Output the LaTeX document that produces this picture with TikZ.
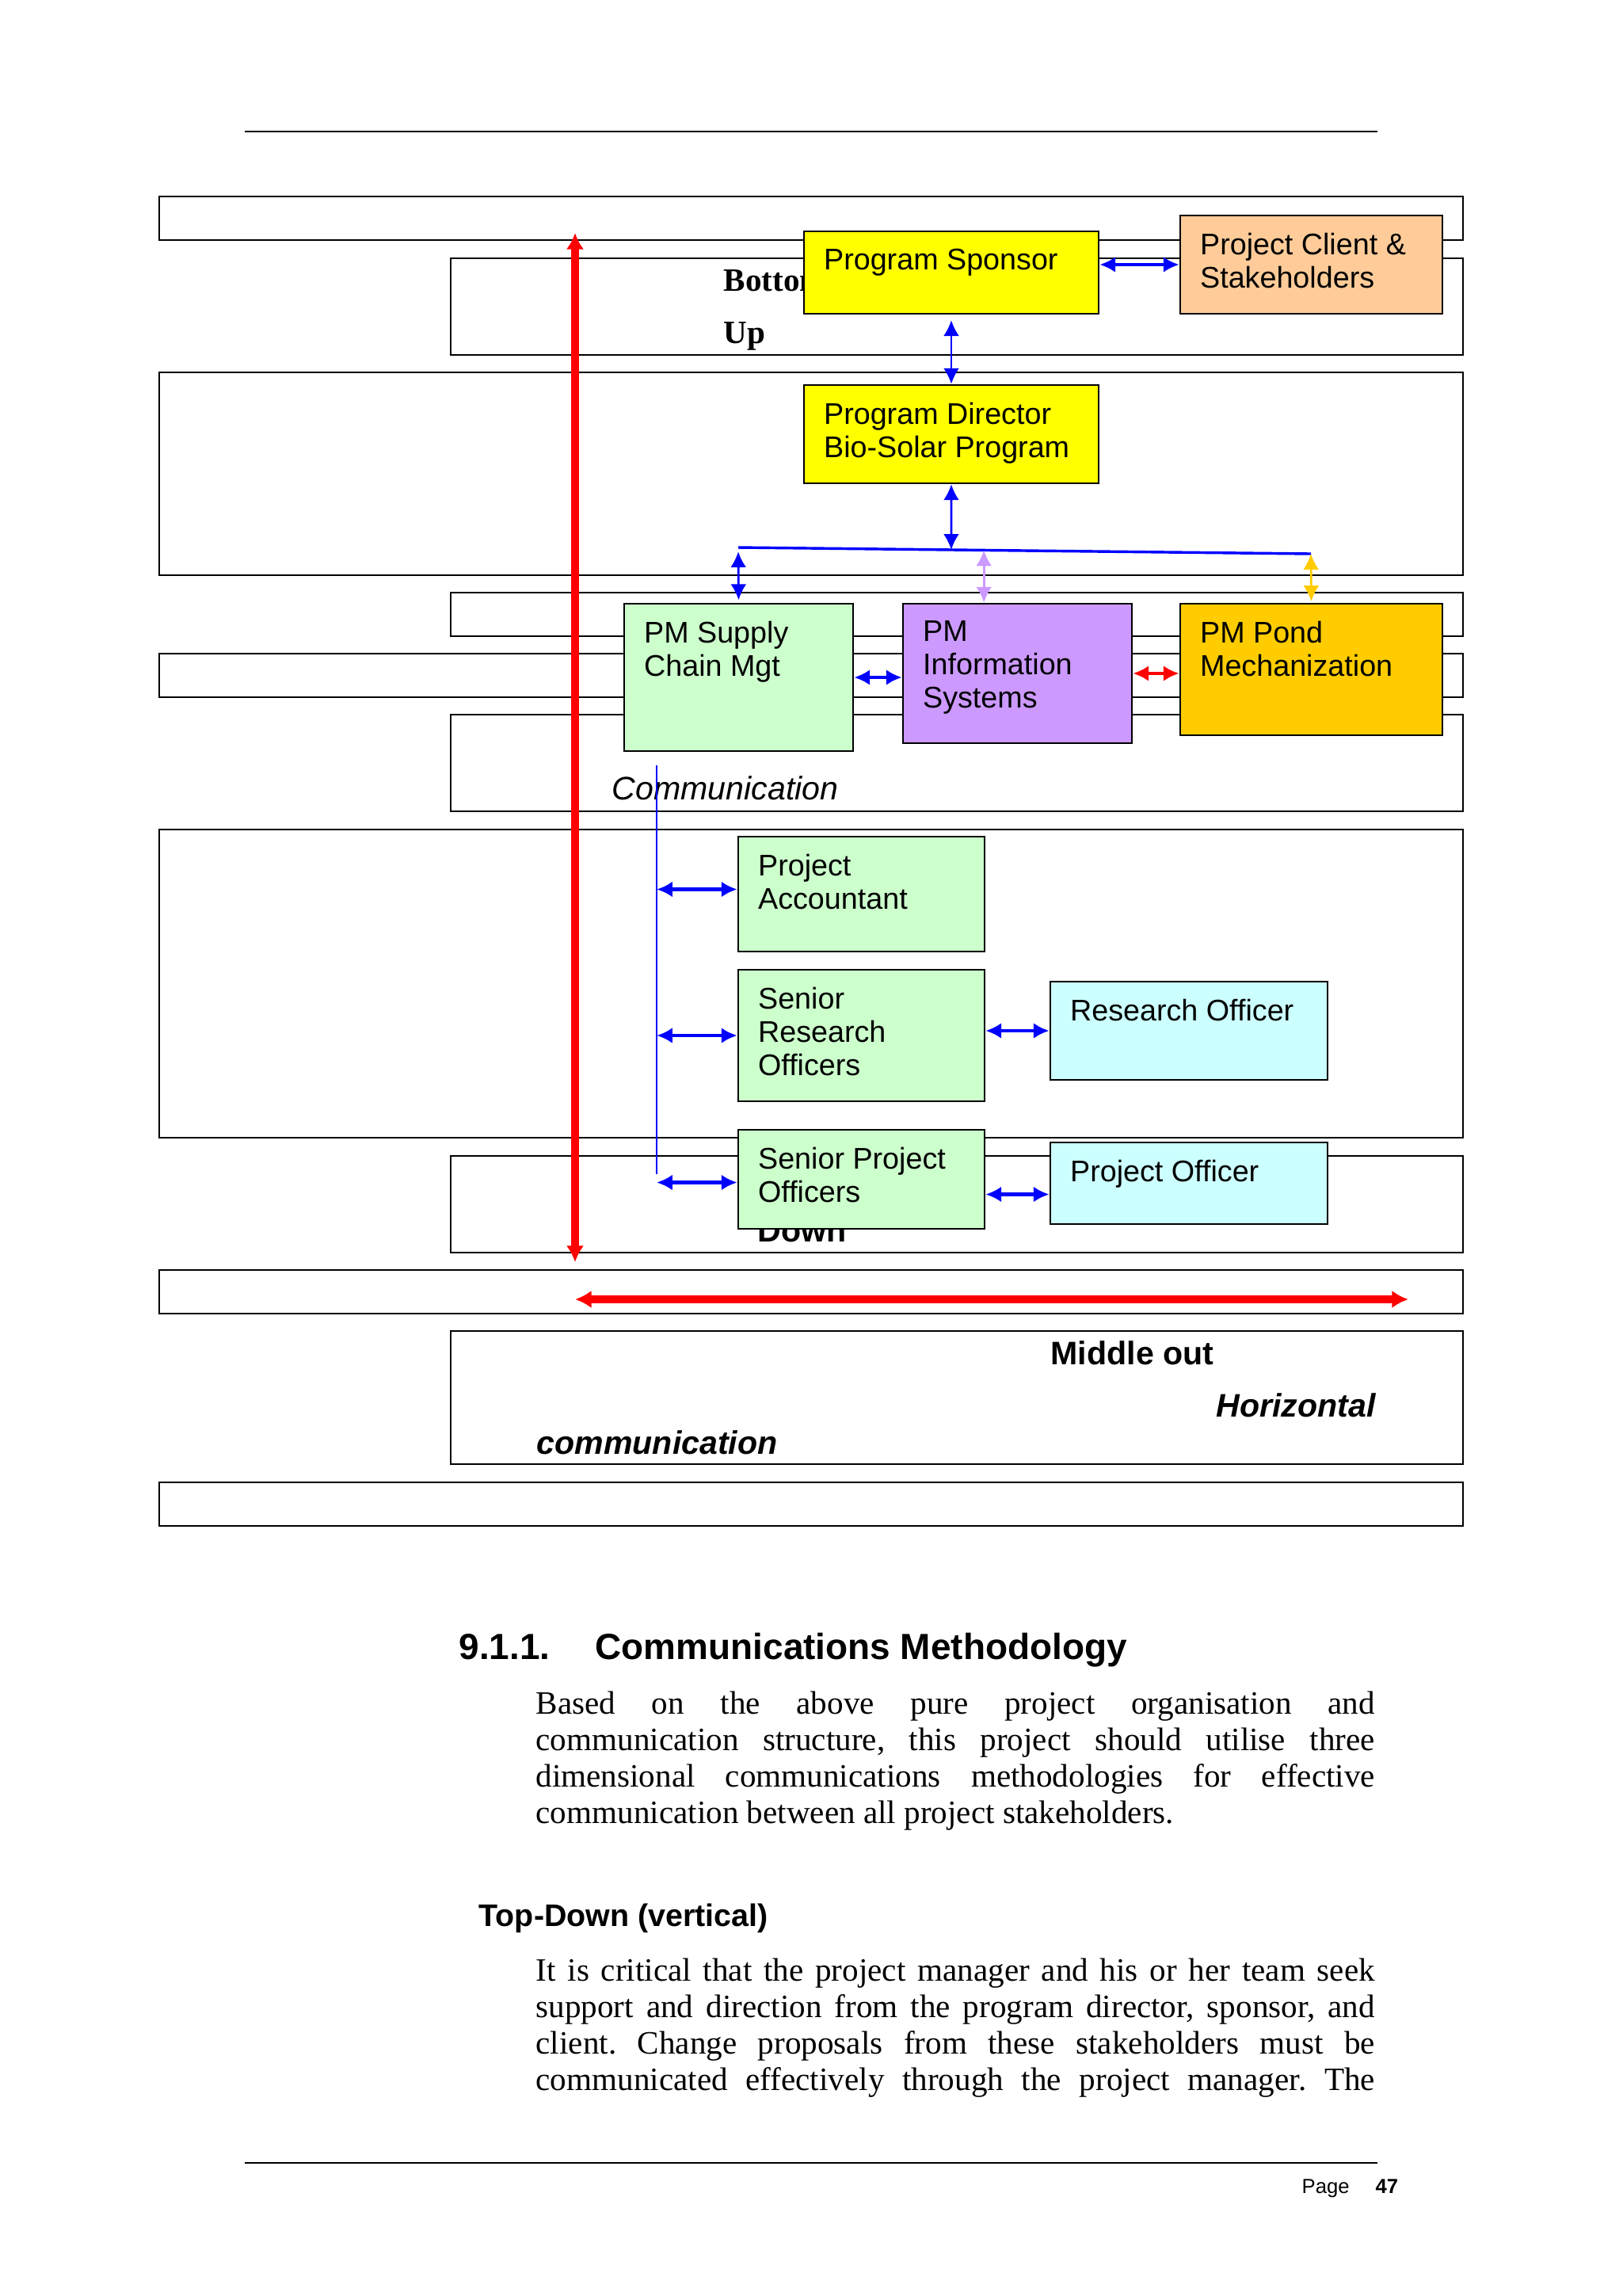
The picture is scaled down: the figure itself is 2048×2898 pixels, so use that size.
\documentclass[tikz,border=0pt]{standalone}
\usepackage{fontspec}
\setmainfont{Liberation Serif}
\setsansfont{Liberation Sans}
\usepackage{tikz}
\usetikzlibrary{arrows.meta}
\usetikzlibrary{fit,calc}
\usepackage{xcolor}
\definecolor{sponsoryellow}{HTML}{FFFF00}
\definecolor{clientpeach}{HTML}{FFCC99}
\definecolor{staffgreen}{HTML}{CCFFCC}
\definecolor{infolilac}{HTML}{CC99FF}
\definecolor{pondgold}{HTML}{FFCC00}
\definecolor{officercyan}{HTML}{CCFFFF}
\tolerance=10000
\hbadness=10000
\frenchspacing
\tikzstyle{frame}=[draw=black, line width=0.6pt]
\tikzstyle{pagerule}=[draw=black, line width=0.7pt]
\tikzstyle{orgbox}=[draw=black, line width=0.75pt, inner sep=0pt]
\tikzstyle{boxtext}=[anchor=north west, align=left, inner xsep=7.5pt, inner ysep=6.5pt, font=\sffamily\fontsize{11}{12.3}\selectfont]
\tikzstyle{linkarrow}=[{Latex[length=5.8pt,width=5.8pt]}-{Latex[length=5.8pt,width=5.8pt]}]
\tikzstyle{thicklink}=[linkarrow, blue, line width=1.2pt]
\tikzstyle{thinlink}=[linkarrow, blue, line width=0.8pt]
\tikzstyle{redlink}=[{Latex[length=6pt,width=6.5pt]}-{Latex[length=6pt,width=6.5pt]}, red, line width=3pt]
\tikzstyle{busline}=[blue, line width=1pt]
\tikzstyle{spine}=[blue, line width=0.5pt]
\tikzstyle{flowlabel}=[inner sep=0pt, anchor=base west, font=\sffamily\bfseries\fontsize{12}{14}\selectfont]
\tikzstyle{bodytext}=[inner sep=0pt, anchor=base west, text width=309pt, align=justify, font=\rmfamily\fontsize{12}{13.45}\selectfont]
\newcommand{\orgBox}[5]{
	\node[orgbox, fill=#2, fit={#3 #4}] (#1) {};
	\node[boxtext] (#1text) at (#1.north west) {#5};
}

\begin{document}
\begin{tikzpicture}[x=0.01025390625cm, y=-0.01025390625cm]
	\useasboundingbox (0,0) rectangle (2048,2898);
	\coordinate (headL) at (309,166);
	\coordinate (headR) at (1739,166);
	\coordinate (footL) at (309,2730);
	\coordinate (footR) at (1739,2730);
	\draw[pagerule] (headL) -- (headR);
	\draw[pagerule] (footL) -- (footR);
	\foreach \xa/\ya/\yb in {201/248/303, 569/326/448, 201/470/726, 569/748/803, 201/825/880, 569/902/1024, 201/1047/1436, 569/1459/1581, 201/1603/1658, 569/1680/1848, 201/1871/1926}
		\draw[frame] (\xa,\ya) rectangle (1847,\yb);
	\node[flowlabel, font=\rmfamily\bfseries\fontsize{12}{14}\selectfont] (bottomlbl) at (913,367) {Bottom};
	\node[flowlabel, font=\rmfamily\bfseries\fontsize{12}{14}\selectfont] (uplbl) at (913,433) {Up};
	\node[flowlabel, font=\sffamily\itshape\fontsize{12}{14}\selectfont] (commlbl) at (772,1009) {Communication};
	\node[flowlabel] (downlbl) at (956,1567) {Down};
	\node[flowlabel] (middlelbl) at (1326,1722) {Middle out};
	\node[flowlabel, font=\sffamily\bfseries\itshape\fontsize{12}{14}\selectfont] (horizlbl) at (1535,1788) {Horizontal};
	\node[flowlabel, font=\sffamily\bfseries\itshape\fontsize{12}{14}\selectfont] (hcommlbl) at (677,1835) {communication};
	\coordinate (vtop) at (726,294);
	\coordinate (vbot) at (726,1593);
	\coordinate (hleft) at (726,1640);
	\coordinate (hright) at (1778,1640);
	\draw[redlink] (vbot) -- (vtop);
	\draw[redlink] (hleft) -- (hright);
	\orgBox{sponsor}{sponsoryellow}{(1015,292)}{(1387,396)}{Program Sponsor}
	\orgBox{client}{clientpeach}{(1490,272)}{(1821,396)}{Project Client \&\\Stakeholders}
	\orgBox{director}{sponsoryellow}{(1015,486)}{(1387,610)}{Program Director\\Bio-Solar Program}
	\orgBox{supply}{staffgreen}{(788,762)}{(1077,948)}{PM Supply\\Chain Mgt}
	\orgBox{infosys}{infolilac}{(1140,762)}{(1429,938)}{PM\\Information\\Systems}
	\orgBox{pond}{pondgold}{(1490,762)}{(1821,928)}{PM Pond\\Mechanization}
	\orgBox{accountant}{staffgreen}{(932,1056)}{(1243,1201)}{Project\\Accountant}
	\orgBox{seniorres}{staffgreen}{(932,1224)}{(1243,1390)}{Senior\\Research\\Officers}
	\orgBox{seniorproj}{staffgreen}{(932,1426)}{(1243,1551)}{Senior Project\\Officers}
	\orgBox{researcher}{officercyan}{(1326,1239)}{(1676,1363)}{Research Officer}
	\orgBox{officer}{officercyan}{(1326,1442)}{(1676,1545)}{Project Officer}
	\coordinate (busL) at (932,691);
	\coordinate (busR) at (1655,699);
	\coordinate (busM) at ($(busL)!0.372!(busR)$);
	\coordinate (busI) at ($(busL)!0.429!(busR)$);
	\draw[busline] (busL) -- (busR);
	\draw[thicklink] (sponsor.east |- client.west) -- (client.west);
	\draw[thinlink, shorten <=2pt] (sponsor.south) -- (director.north);
	\draw[thinlink] (director.south) -- (busM);
	\draw[thinlink, shorten <=1.5pt, shorten >=1pt] (busL) -- (supply.north);
	\draw[thinlink, infolilac] (busI) -- (busI |- infosys.north);
	\draw[thinlink, pondgold, shorten >=0.5pt] (busR) -- (pond.north);
	\draw[thicklink] (supply.east) -- (supply.east -| infosys.west);
	\draw[thicklink, red] (infosys.east) -- (infosys.east -| pond.west);
	\coordinate (spineTop) at (829,966);
	\coordinate (spineBot) at (829,1482);
	\draw[spine] (spineTop) -- (spineBot);
	\draw[thicklink] ($(spineTop |- accountant.west)+(0,-6)$) -- ($(accountant.west)+(0,-6)$);
	\draw[thicklink] (spineTop |- seniorres.west) -- (seniorres.west);
	\draw[thicklink] ($(spineTop |- seniorproj.west)+(0,4)$) -- ($(seniorproj.west)+(0,4)$);
	\draw[thicklink] (researcher.west -| seniorres.east) -- (researcher.west);
	\draw[thicklink] ($(officer.west -| seniorproj.east)+(0,14)$) -- ($(officer.west)+(0,14)$);
	\node[flowlabel, font=\sffamily\bfseries\fontsize{13.4}{16}\selectfont] (secnum) at (579,2094) {9.1.1.};
	\node[flowlabel, font=\sffamily\bfseries\fontsize{13.4}{16}\selectfont] (sectitle) at (751,2094) {Communications Methodology};
	\node[bodytext] (para1) at (676,2163) {Based on the above pure project organisation and\linebreak communication structure, this project should utilise three\linebreak dimensional communications methodologies for effective\linebreak communication between all project stakeholders.};
	\node[flowlabel, font=\sffamily\bfseries\fontsize{11.5}{14}\selectfont] (subtitle) at (604,2431) {Top-Down (vertical)};
	\node[bodytext] (para2) at (676,2500) {It is critical that the project manager and his or her team seek\linebreak support and direction from the program director, sponsor, and\linebreak client. Change proposals from these stakeholders must be\linebreak \makebox[\linewidth][s]{communicated effectively through the project manager. The}};
	\node[flowlabel, font=\sffamily\fontsize{7.5}{9}\selectfont] (pagelbl) at (1643,2768) {Page};
	\node[flowlabel, font=\sffamily\bfseries\fontsize{7.5}{9}\selectfont] (pagenum) at (1736,2768) {47};
\end{tikzpicture}
\end{document}
